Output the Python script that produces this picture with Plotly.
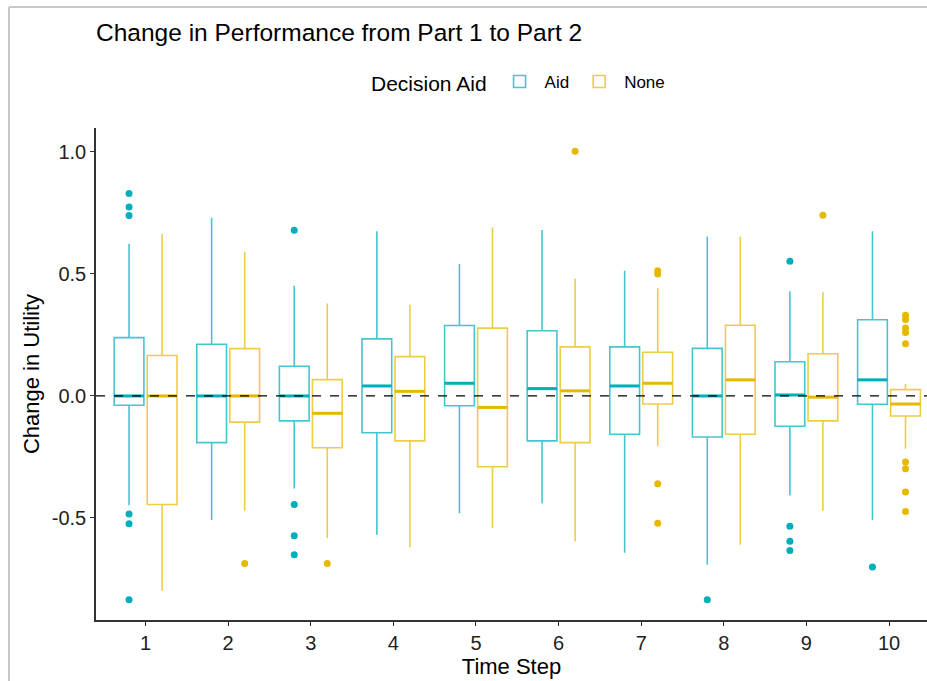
import plotly.graph_objects as go

steps = [1, 2, 3, 4, 5, 6, 7, 8, 9, 10]

# Aid group statistics
aid_upper = [0.624, 0.730, 0.452, 0.675, 0.541, 0.680, 0.513, 0.653, 0.429, 0.675]
aid_q3 = [0.239, 0.212, 0.122, 0.234, 0.289, 0.267, 0.201, 0.195, 0.140, 0.312]
aid_median = [0.000, 0.000, 0.000, 0.041, 0.052, 0.030, 0.041, 0.000, 0.004, 0.066]
aid_q1 = [-0.038, -0.191, -0.102, -0.151, -0.040, -0.184, -0.157, -0.168, -0.124, -0.034]
aid_lower = [-0.448, -0.508, -0.379, -0.569, -0.481, -0.441, -0.642, -0.692, -0.408, -0.508]
aid_out_step = [1, 1, 1, 1, 1, 1, 3, 3, 3, 3, 8, 9, 9, 9, 9, 10]
aid_out_val = [0.830, 0.774, 0.739, -0.484, -0.524, -0.835,
               0.679, -0.445, -0.573, -0.651, -0.835,
               0.552, -0.534, -0.595, -0.633, -0.701]

# None group statistics
none_upper = [0.664, 0.591, 0.379, 0.374, 0.691, 0.480, 0.441, 0.653, 0.425, 0.049]
none_q3 = [0.166, 0.194, 0.067, 0.161, 0.278, 0.201, 0.179, 0.290, 0.173, 0.026]
none_median = [0.000, 0.000, -0.071, 0.019, -0.047, 0.021, 0.052, 0.066, -0.005, -0.033]
none_q1 = [-0.445, -0.107, -0.212, -0.184, -0.290, -0.191, -0.033, -0.157, -0.102, -0.082]
none_lower = [-0.798, -0.470, -0.583, -0.620, -0.541, -0.596, -0.206, -0.610, -0.470, -0.216]
none_out_step = [2, 3, 6, 7, 7, 7, 7, 9, 10, 10, 10, 10, 10, 10, 10, 10, 10]
none_out_val = [-0.686, -0.686, 1.003, 0.513, 0.500, -0.360, -0.522, 0.741,
                0.331, 0.313, 0.279, 0.260, 0.214, -0.271, -0.298, -0.394, -0.473]

y_ticks = [-0.5, 0.0, 0.5, 1.0]
y_tick_text = ["-0.5", "0.0", "0.5", "1.0"]

AID_COL = "#00AFBB"
NONE_COL = "#E7B800"
AID_LINE = "rgba(0,175,187,0.72)"
NONE_LINE = "rgba(231,184,0,0.72)"
OFF = 0.2
BW = 0.36

fig = go.Figure()

groups = [
    ("Aid", -OFF, aid_upper, aid_q3, aid_median, aid_q1, aid_lower, aid_out_step, aid_out_val, AID_COL, AID_LINE),
    ("None", OFF, none_upper, none_q3, none_median, none_q1, none_lower, none_out_step, none_out_val, NONE_COL, NONE_LINE),
]

for name, off, up, q3, med, q1, lo, os_, ov, col, lcol in groups:
    xs = [s + off for s in steps]
    fig.add_trace(go.Box(
        name=name, x=xs, q1=q1, median=med, q3=q3,
        lowerfence=lo, upperfence=up, boxpoints=False,
        width=BW, whiskerwidth=0, fillcolor="white",
        line=dict(color=lcol, width=1.6), legendgroup=name,
        hoverinfo="skip",
    ))
    # thicker median segments
    mx, my = [], []
    for x, m in zip(xs, med):
        mx += [x - BW / 2, x + BW / 2, None]
        my += [m, m, None]
    fig.add_trace(go.Scatter(x=mx, y=my, mode="lines", line=dict(color=col, width=3),
                             showlegend=False, legendgroup=name, hoverinfo="skip"))
    fig.add_trace(go.Scatter(x=[s + off for s in os_], y=ov, mode="markers",
                             marker=dict(color=col, size=7), showlegend=False,
                             legendgroup=name, hoverinfo="skip"))

# dashed reference line at zero
fig.add_hline(y=0, line=dict(color="black", width=1.3, dash="dash"), layer="above")

# screenshot border
L, T, PW, PH = 96, 128, 831, 492
def px(x):
    return (x - L) / PW
def py(y):
    return (T + PH - y) / PH
fig.add_shape(type="line", xref="paper", yref="paper", x0=px(9), x1=px(927), y0=py(7), y1=py(7),
              line=dict(color="#c8c8c8", width=2))
fig.add_shape(type="line", xref="paper", yref="paper", x0=px(9), x1=px(9), y0=py(7), y1=py(681),
              line=dict(color="#c8c8c8", width=2))

font = "Liberation Sans, Arial, sans-serif"
fig.update_layout(
    width=927, height=681,
    margin=dict(l=L, r=0, t=T, b=681 - T - PH, pad=0),
    paper_bgcolor="white", plot_bgcolor="white",
    font=dict(family=font, color="black"),
    title=dict(text="Change in Performance from Part 1 to Part 2", x=0, xanchor="left",
               xref="paper", y=1 - 32.5 / 681, yanchor="middle", font=dict(size=24.5, color="black")),
    boxmode="overlay",
    showlegend=True,
    legend=dict(orientation="h", x=px(369), xanchor="left", y=py(83), yanchor="middle",
                title=dict(text="Decision Aid", font=dict(size=21)), font=dict(size=17),
                itemwidth=40),
    xaxis=dict(range=[0.4, 10.46], tickmode="array", tickvals=steps, ticktext=[str(s) for s in steps],
               showline=True, linecolor="#333333", linewidth=1.5, ticks="outside", ticklen=4,
               tickcolor="#333333", showgrid=False, zeroline=False,
               tickfont=dict(size=20, color="#222222"),
               title=dict(text="Time Step", font=dict(size=22), standoff=2)),
    yaxis=dict(range=[-0.918, 1.098], tickmode="array", tickvals=y_ticks,
               ticktext=y_tick_text,
               showline=True, linecolor="#333333", linewidth=1.5, ticks="outside", ticklen=4,
               tickcolor="#333333", showgrid=False, zeroline=False,
               tickfont=dict(size=20, color="#222222"),
               title=dict(text="Change in Utility", font=dict(size=22), standoff=6)),
)

fig.write_html("out.html", config={"displayModeBar": False},
               post_script="document.body.style.margin='0px';document.body.style.overflow='hidden';")
